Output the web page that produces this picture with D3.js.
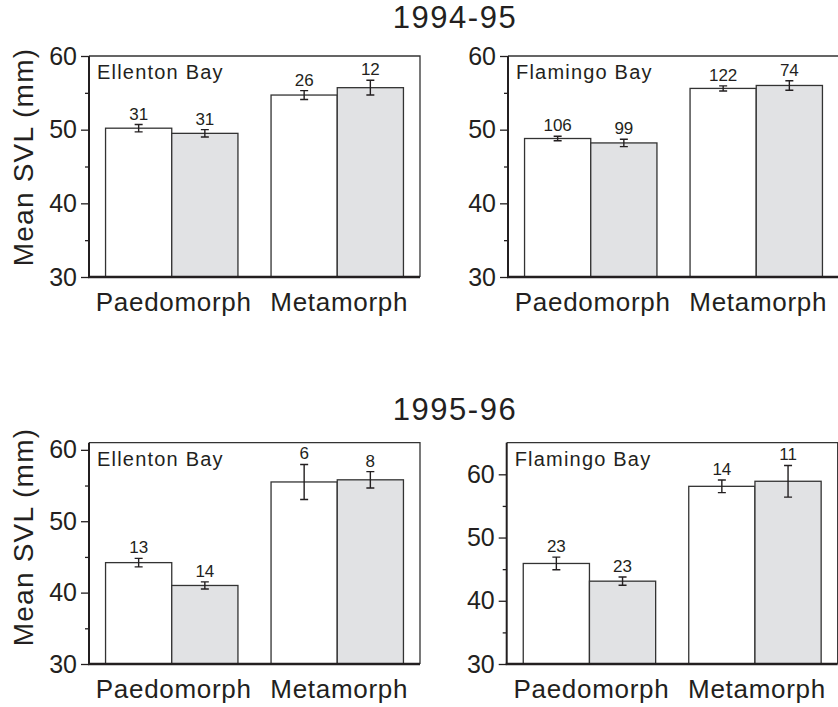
<!DOCTYPE html>
<html>
<head>
<meta charset="utf-8">
<script src="https://cdn.jsdelivr.net/npm/d3@7"></script>
<style>
  html, body { margin: 0; padding: 0; background: #fff; }
  svg text { font-family: "Liberation Sans", Arial, Helvetica, sans-serif; fill: #231f20; }
</style>
</head>
<body>
<div id="chart"></div>
<script>
// categories and labels
const categories = ['Paedomorph', 'Metamorph'];
const years = ['1994-95', '1995-96'];
const sites = ['Ellenton Bay', 'Flamingo Bay'];
const yTicks = [30, 40, 50, 60];
const yMinorTicks = [35, 45, 55];
const yLabel = 'Mean SVL (mm)';

// y domain per panel (row-major: 94-95 Ellenton, 94-95 Flamingo, 95-96 Ellenton, 95-96 Flamingo)
const yDomains = [[30, 60], [30, 60], [30, 61], [30, 65]];

// mean SVL, [Paedomorph, Metamorph]; open = white bars, shaded = grey bars
const ellenton9495Open = [50.2, 54.7];
const ellenton9495Shaded = [49.5, 55.7];
const ellenton9495OpenSE = [0.5, 0.6];
const ellenton9495ShadedSE = [0.5, 1.0];
const ellenton9495OpenN = [31, 26];
const ellenton9495ShadedN = [31, 12];

const flamingo9495Open = [48.8, 55.6];
const flamingo9495Shaded = [48.2, 56.0];
const flamingo9495OpenSE = [0.3, 0.35];
const flamingo9495ShadedSE = [0.5, 0.65];
const flamingo9495OpenN = [106, 122];
const flamingo9495ShadedN = [99, 74];

const ellenton9596Open = [44.2, 55.5];
const ellenton9596Shaded = [41.0, 55.8];
const ellenton9596OpenSE = [0.6, 2.45];
const ellenton9596ShadedSE = [0.5, 1.15];
const ellenton9596OpenN = [13, 6];
const ellenton9596ShadedN = [14, 8];

const flamingo9596Open = [45.9, 58.1];
const flamingo9596Shaded = [43.1, 58.9];
const flamingo9596OpenSE = [1.0, 1.0];
const flamingo9596ShadedSE = [0.65, 2.5];
const flamingo9596OpenN = [23, 14];
const flamingo9596ShadedN = [23, 11];

const W = 838, H = 707;
const plotW = 331;
const fills = ['#ffffff', '#e1e2e4'];
const ink = '#231f20';

// layout of the four panels (left of y axis, top and bottom of plot)
const layout = [
  { left: 89, top: 56, bottom: 277 },
  { left: 508, top: 56, bottom: 277 },
  { left: 89, top: 442.7, bottom: 664 },
  { left: 506.7, top: 442.7, bottom: 664 }
];

function series(mean, se, n) {
  return categories.map((c, i) => ({ cat: c, mean: mean[i], se: se[i], n: n[i] }));
}

const panels = [
  { site: sites[0], groups: [series(ellenton9495Open, ellenton9495OpenSE, ellenton9495OpenN), series(ellenton9495Shaded, ellenton9495ShadedSE, ellenton9495ShadedN)] },
  { site: sites[1], groups: [series(flamingo9495Open, flamingo9495OpenSE, flamingo9495OpenN), series(flamingo9495Shaded, flamingo9495ShadedSE, flamingo9495ShadedN)] },
  { site: sites[0], groups: [series(ellenton9596Open, ellenton9596OpenSE, ellenton9596OpenN), series(ellenton9596Shaded, ellenton9596ShadedSE, ellenton9596ShadedN)] },
  { site: sites[1], groups: [series(flamingo9596Open, flamingo9596OpenSE, flamingo9596OpenN), series(flamingo9596Shaded, flamingo9596ShadedSE, flamingo9596ShadedN)] }
];

const svg = d3.select('#chart').append('svg')
  .attr('width', W)
  .attr('height', H);

// year titles
const titleY = [28, 420];
years.forEach((yr, i) => {
  svg.append('text')
    .attr('x', 455)
    .attr('y', titleY[i])
    .attr('text-anchor', 'middle')
    .style('font-size', '31px')
    .style('letter-spacing', '1.5px')
    .text(yr);
});

// y axis titles
const yLabelCenter = [157, 537];
yLabelCenter.forEach(cy => {
  svg.append('text')
    .attr('transform', `translate(33,${cy}) rotate(-90)`)
    .attr('text-anchor', 'middle')
    .style('font-size', '28px')
    .style('letter-spacing', '1.2px')
    .text(yLabel);
});

panels.forEach((p, pi) => {
  const L = layout[pi];
  const g = svg.append('g').attr('transform', `translate(${L.left},0)`);

  const x = d3.scaleBand().domain(categories).range([0, plotW]).padding(0);
  const xInner = d3.scaleBand().domain([0, 1]).range([0, x.bandwidth() * 0.8]);
  const y = d3.scaleLinear().domain(yDomains[pi]).range([L.bottom, L.top]);

  // frame top and right
  g.append('path')
    .attr('d', `M0,${L.top}H${plotW}V${L.bottom}`)
    .attr('fill', 'none')
    .attr('stroke', '#333')
    .attr('stroke-width', 1.3);

  // bars
  p.groups.forEach((ser, si) => {
    const bg = g.append('g');
    ser.forEach(d => {
      const bx = x(d.cat) + x.bandwidth() * 0.1 + xInner(si);
      const bw = xInner.bandwidth();
      const cx = bx + bw / 2;
      bg.append('rect')
        .attr('x', bx)
        .attr('y', y(d.mean))
        .attr('width', bw)
        .attr('height', y(yDomains[pi][0]) - y(d.mean))
        .attr('fill', fills[si])
        .attr('stroke', '#333')
        .attr('stroke-width', 1.3);

      // error bar
      const top = y(d.mean + d.se), bot = y(d.mean - d.se);
      bg.append('path')
        .attr('d', `M${cx - 4},${top}H${cx + 4}M${cx},${top}V${bot}M${cx - 4},${bot}H${cx + 4}`)
        .attr('fill', 'none')
        .attr('stroke', ink)
        .attr('stroke-width', 1.4);

      // sample size
      bg.append('text')
        .attr('x', cx)
        .attr('y', top - 5)
        .attr('text-anchor', 'middle')
        .style('font-size', '17px')
        .text(d.n);
    });
  });

  // y axis, major and minor ticks
  const yAxis = g.append('g')
    .call(d3.axisLeft(y).tickValues(yTicks).tickSize(8).tickPadding(4).tickFormat(d3.format('d')));
  yAxis.select('.domain').remove();
  yAxis.selectAll('.tick line').attr('stroke', ink).attr('stroke-width', 1.3);
  yAxis.selectAll('.tick text')
    .style('font-size', '25px')
    .style('font-family', '"Liberation Sans", Arial, sans-serif')
    .attr('fill', ink);

  const yMinor = g.append('g')
    .call(d3.axisLeft(y).tickValues(yMinorTicks).tickSize(4).tickFormat(''));
  yMinor.select('.domain').remove();
  yMinor.selectAll('.tick line').attr('stroke', ink).attr('stroke-width', 1.3);

  // left axis line
  g.append('line')
    .attr('x1', 0).attr('x2', 0)
    .attr('y1', L.top).attr('y2', L.bottom)
    .attr('stroke', ink)
    .attr('stroke-width', 2);

  // bottom axis line
  g.append('line')
    .attr('x1', -1).attr('x2', plotW)
    .attr('y1', L.bottom).attr('y2', L.bottom)
    .attr('stroke', ink)
    .attr('stroke-width', 2.4);

  // category labels
  g.selectAll('.cat')
    .data(categories)
    .join('text')
    .attr('class', 'cat')
    .attr('x', d => x(d) + x.bandwidth() / 2 + 2)
    .attr('y', L.bottom + 34)
    .attr('text-anchor', 'middle')
    .style('font-size', '26px')
    .style('letter-spacing', '0.7px')
    .text(d => d);

  // site label
  g.append('text')
    .attr('x', 8)
    .attr('y', L.top + 23)
    .style('font-size', '20px')
    .style('letter-spacing', '1.2px')
    .text(p.site);
});
</script>
</body>
</html>
